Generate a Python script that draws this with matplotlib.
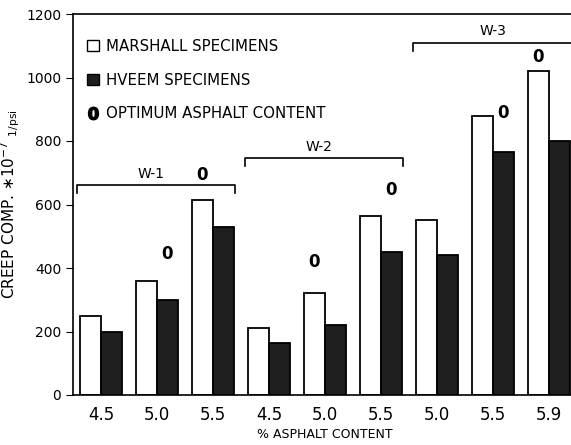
import numpy as np
import matplotlib
matplotlib.use('Agg')
import matplotlib.pyplot as plt
from matplotlib.lines import Line2D
from matplotlib.patches import Patch

#------------------------------------------------------------------------------
# Dados: fluencia (creep compliance) por teor de asfalto
teor = ['4.5', '5.0', '5.5', '4.5', '5.0', '5.5', '5.0', '5.5', '5.9']
marshall = [250, 360, 615, 210, 320, 565, 550, 880, 1020]
hveem = [200, 300, 530, 165, 220, 450, 440, 765, 800]

# Grupos de mistura e o intervalo de barras de cada um
grupos = ['W-1', 'W-2', 'W-3']
grupo_inicio = [0, 3, 6]
grupo_fim = [2, 5, 8]

# Teor otimo: (indice da barra, 'M' = Marshall ou 'H' = Hveem)
otimo = [(1, 'H'), (2, 'M'), (4, 'M'), (5, 'H'), (7, 'H'), (8, 'M')]

#------------------------------------------------------------------------------
fig = plt.figure(figsize=(5.71, 4.45), dpi=100)
ax = fig.add_axes([73/571, 50/445, 504/571, 381/445])

x = np.arange(len(teor))
w = 0.375
ax.bar(x - w/2, marshall, w, color='white', edgecolor='black', linewidth=1.3)
ax.bar(x + w/2, hveem, w, color='#1e1e1e', edgecolor='black', linewidth=1.3)

# Marcadores "0" do teor otimo (altura do texto em unidades do eixo y)
altura_zero = [444, 693, 419, 646, 888, 1065]
for (i, serie), h in zip(otimo, altura_zero):
    xp = x[i] - w/2 if serie == 'M' else x[i] + w/2
    ax.text(xp, h, '0', ha='center', va='center', fontsize=12,
            fontweight='bold')

# Chaves dos grupos W-1, W-2, W-3
alturas = [660, 745, 1108]
for g, i0, i1, h in zip(grupos, grupo_inicio, grupo_fim, alturas):
    xa = i0 - 0.43
    xb = i1 + 0.4 if i1 < len(teor) - 1 else i1 + 0.8
    ax.plot([xa, xa, xb, xb], [h - 25, h, h, h - 25], color='black', lw=1.2,
            clip_on=False)
    xt = (i0 + i1) / 2 - 0.1 if i1 < len(teor) - 1 else i1 - 1.0
    ax.text(xt, h + 15, g, ha='center', va='bottom', fontsize=10)

ax.set_xlim(-0.5, len(teor) - 0.5)
ax.set_ylim(0, 1200)
ax.set_yticks(range(0, 1201, 200))
ax.set_xticks(x)
ax.set_xticklabels(teor, fontsize=12)
ax.tick_params(axis='x', length=0, pad=8)
ax.tick_params(axis='y', direction='out', length=5, labelsize=10)
for s in ax.spines.values():
    s.set_linewidth(1.2)

ax.set_xlabel('% ASPHALT CONTENT', fontsize=9, labelpad=3)
ax.set_ylabel(r'CREEP COMP. $\ast10^{-7}\ _{\mathrm{1/psi}}$', fontsize=11,
              labelpad=3)

handles = [Patch(facecolor='white', edgecolor='black'),
           Patch(facecolor='#1e1e1e', edgecolor='black'),
           Line2D([], [], ls='none', marker=r'$\mathbf{0}$', color='black',
                  markersize=9)]
ax.legend(handles, ['MARSHALL SPECIMENS', 'HVEEM SPECIMENS',
                    'OPTIMUM ASPHALT CONTENT'],
          loc='upper left', frameon=False, fontsize=10.8, labelspacing=1.25,
          handlelength=0.8, handletextpad=0.5, borderaxespad=0.5,
          bbox_to_anchor=(0.0, 0.97))

fig.savefig('out.png', dpi=100)
